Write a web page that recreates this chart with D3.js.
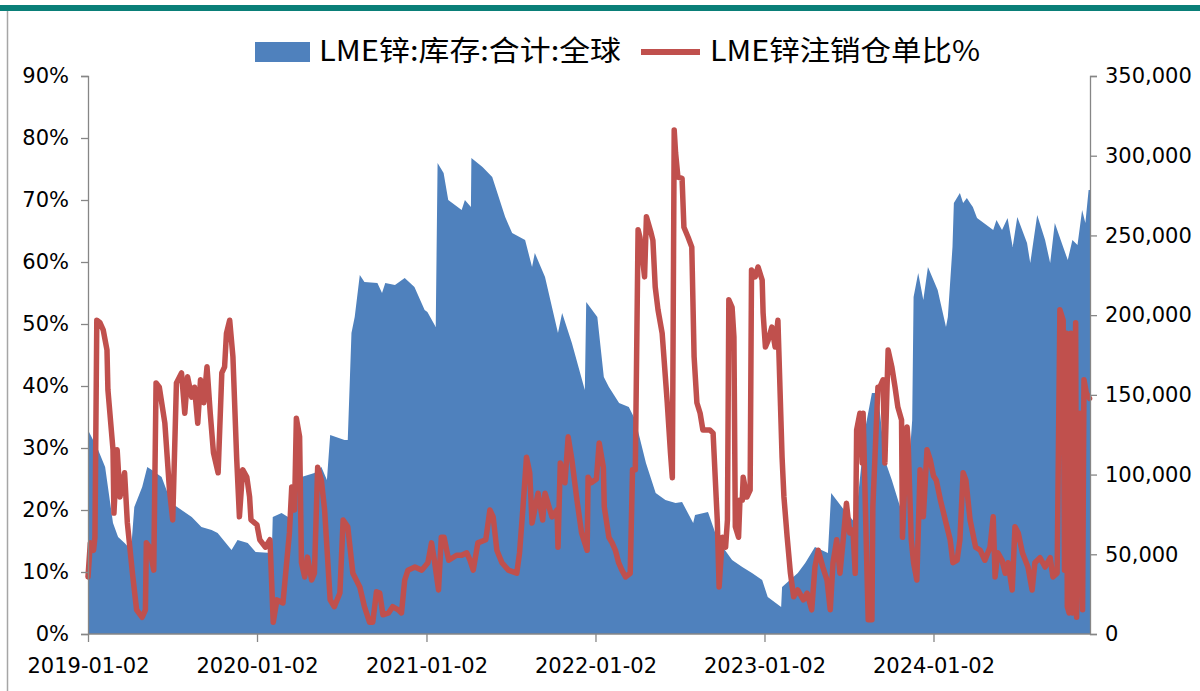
<!DOCTYPE html>
<meta charset="utf-8">
<style>
body { margin: 0; background: #fff; }
.axis path, .axis line { stroke: #868686; stroke-width: 1.3px; }
.axis text { font-family: "DejaVu Sans", sans-serif; font-size: 21px; fill: #000; }
.legend text { font-family: "Noto Sans CJK SC", sans-serif; font-size: 28px; fill: #000; }
</style>
<svg width="1200" height="691"></svg>
<script src="https://cdn.jsdelivr.net/npm/d3@7"></script>
<script>

// LME 锌库存 (吨), 右轴
var stockData = [
  ["2019-01-02",128000],["2019-01-24",115400],["2019-02-08",104700],["2019-02-25",69600],
  ["2019-03-08",60800],["2019-03-22",57100],["2019-04-05",52700],["2019-04-12",79700],
  ["2019-04-29",92200],["2019-05-10",104700],["2019-05-20",102900],["2019-06-10",98500],
  ["2019-07-01",82200],["2019-07-23",77800],["2019-08-14",73400],["2019-09-04",67100],
  ["2019-09-26",65200],["2019-10-09",63300],["2019-11-08",52700],["2019-11-21",59000],
  ["2019-12-13",57100],["2019-12-30",51400],["2020-02-03",50800],["2020-02-05",73400],
  ["2020-02-24",75900],["2020-03-09",73400],["2020-04-07",98500],["2020-05-05",101000],
  ["2020-05-20",104700],["2020-06-01",96600],["2020-06-08",124800],["2020-07-09",121700],
  ["2020-07-16",121700],["2020-07-24",188800],["2020-07-31",198800],["2020-08-11",225200],
  ["2020-08-21",220800],["2020-09-18",220100],["2020-09-28",213900],["2020-10-05",220100],
  ["2020-10-26",218900],["2020-11-16",223300],["2020-12-07",217600],["2020-12-29",203200],
  ["2021-01-04",202000],["2021-01-22",192600],["2021-01-26",295400],["2021-02-08",289100],
  ["2021-02-18",272200],["2021-03-19",265900],["2021-03-26",272200],["2021-04-08",267800],
  ["2021-04-09",298500],["2021-05-03",292900],["2021-05-24",286600],["2021-06-21",261500],
  ["2021-07-06",251500],["2021-08-03",247100],["2021-08-18",230200],["2021-08-24",239000],
  ["2021-09-15",223900],["2021-10-13",188800],["2021-10-22",201300],["2021-11-12",182500],
  ["2021-12-10",153000],["2021-12-13",208200],["2022-01-06",198800],["2022-01-20",161200],
  ["2022-01-31",154900],["2022-02-22",144900],["2022-03-15",142400],["2022-03-29",134200],
  ["2022-04-21",107300],["2022-05-12",88400],["2022-06-02",84000],["2022-06-24",82200],
  ["2022-07-08",82800],["2022-08-01",69600],["2022-08-05",74600],["2022-09-02",76500],
  ["2022-09-23",59000],["2022-10-24",46400],["2022-11-15",42000],["2022-12-06",38300],
  ["2022-12-28",33900],["2023-01-09",23200],["2023-02-07",16900],["2023-02-09",29500],
  ["2023-03-15",38300],["2023-03-31",44500],["2023-04-21",54600],["2023-05-19",50800],
  ["2023-05-26",88400],["2023-06-23",77800],["2023-07-17",69600],["2023-08-01",111000],
  ["2023-08-07",128000],["2023-08-22",151200],["2023-09-04",151200],["2023-09-19",109100],
  ["2023-10-04",96600],["2023-10-26",75900],["2023-11-08",96600],["2023-11-17",134200],
  ["2023-11-20",211400],["2023-11-30",226400],["2023-12-11",209500],["2023-12-21",230200],
  ["2024-01-11",215800],["2024-01-29",192600],["2024-02-02",198800],["2024-02-12",242700],
  ["2024-02-15",270300],["2024-02-28",276600],["2024-03-06",270300],["2024-03-14",273500],
  ["2024-03-21",270300],["2024-03-27",267800],["2024-04-05",260900],["2024-05-10",253400],
  ["2024-05-17",259700],["2024-05-29",253400],["2024-06-10",260900],["2024-06-21",242700],
  ["2024-07-01",261500],["2024-07-22",245200],["2024-07-29",232700],["2024-08-13",262800],
  ["2024-08-30",247100],["2024-09-10",232700],["2024-09-20",257800],["2024-10-08",242700],
  ["2024-10-18",234600],["2024-10-28",247100],["2024-11-08",244000],["2024-11-18",265900],
  ["2024-11-25",257800],["2024-12-02",278500],["2024-12-05",278500]
];

// LME 锌注销仓单比 (%), 左轴
var cancelData = [
  ["2019-01-02",9.2],["2019-01-07",14.7],["2019-01-14",13.5],["2019-01-17",15.6],["2019-01-21",50.6],
  ["2019-01-28",50.2],["2019-02-04",49.0],["2019-02-12",45.8],["2019-02-14",39.4],["2019-02-25",29.7],
  ["2019-02-27",19.5],["2019-03-06",29.7],["2019-03-12",22.1],["2019-03-22",26.0],["2019-03-28",17.9],
  ["2019-04-08",9.8],["2019-04-17",3.9],["2019-04-29",2.7],["2019-05-06",3.9],["2019-05-08",14.7],
  ["2019-05-15",14.0],["2019-05-24",10.3],["2019-05-29",40.5],["2019-06-05",39.8],["2019-06-17",34.0],
  ["2019-06-27",23.2],["2019-07-04",18.4],["2019-07-12",40.5],["2019-07-23",42.1],["2019-07-30",35.6],
  ["2019-08-05",41.5],["2019-08-14",38.2],["2019-08-20",39.8],["2019-08-27",34.0],["2019-09-02",41.0],
  ["2019-09-09",37.3],["2019-09-16",43.1],["2019-09-23",35.6],["2019-09-30",29.2],["2019-10-10",26.0],
  ["2019-10-18",42.1],["2019-10-24",43.1],["2019-10-28",48.5],["2019-11-04",50.6],["2019-11-11",44.7],
  ["2019-11-19",28.5],["2019-11-25",18.9],["2019-12-02",26.5],["2019-12-11",25.3],["2019-12-17",22.1],
  ["2019-12-20",18.4],["2020-01-02",17.6],["2020-01-08",15.2],["2020-01-20",14.0],["2020-01-30",15.2],
  ["2020-02-06",1.9],["2020-02-14",5.5],["2020-02-27",5.0],["2020-03-06",11.5],["2020-03-12",16.3],
  ["2020-03-17",23.7],["2020-03-23",20.0],["2020-03-27",34.8],["2020-04-03",31.8],["2020-04-07",11.5],
  ["2020-04-14",9.2],["2020-04-20",12.4],["2020-04-29",8.7],["2020-05-05",9.8],["2020-05-12",26.9],
  ["2020-05-20",24.8],["2020-05-27",20.0],["2020-06-08",5.5],["2020-06-17",4.4],["2020-06-29",6.6],
  ["2020-07-06",18.4],["2020-07-16",17.3],["2020-07-27",9.8],["2020-08-11",7.6],["2020-08-21",4.4],
  ["2020-09-01",1.9],["2020-09-08",1.9],["2020-09-16",6.8],["2020-09-23",6.6],["2020-09-30",3.1],
  ["2020-10-12",3.4],["2020-10-21",4.4],["2020-11-02",3.9],["2020-11-09",3.4],["2020-11-16",8.7],
  ["2020-11-23",10.3],["2020-12-08",10.8],["2020-12-23",10.3],["2021-01-05",11.5],["2021-01-13",14.7],
  ["2021-01-19",11.9],["2021-01-28",7.1],["2021-02-03",15.6],["2021-02-09",15.6],["2021-02-19",11.9],
  ["2021-03-08",12.7],["2021-03-19",12.7],["2021-03-30",13.1],["2021-04-06",11.9],["2021-04-13",10.3],
  ["2021-04-23",14.7],["2021-05-10",15.2],["2021-05-19",20.0],["2021-05-26",18.9],["2021-06-03",13.5],
  ["2021-06-14",11.5],["2021-06-28",10.3],["2021-07-16",9.8],["2021-07-22",13.1],["2021-07-29",20.0],
  ["2021-08-06",28.5],["2021-08-13",26.0],["2021-08-18",17.9],["2021-08-31",22.7],["2021-09-10",18.4],
  ["2021-09-15",22.7],["2021-09-30",18.9],["2021-10-11",20.0],["2021-10-13",14.0],["2021-10-18",27.6],
  ["2021-10-28",24.4],["2021-11-04",31.8],["2021-11-12",28.1],["2021-11-23",21.6],["2021-12-03",16.3],
  ["2021-12-15",13.5],["2021-12-17",25.3],["2021-12-24",24.4],["2022-01-04",25.0],["2022-01-10",30.8],
  ["2022-01-19",26.9],["2022-01-21",20.5],["2022-01-31",15.6],["2022-02-07",14.7],["2022-02-14",13.5],
  ["2022-02-21",11.5],["2022-02-28",10.3],["2022-03-08",9.2],["2022-03-18",9.8],["2022-03-23",26.5],
  ["2022-03-29",26.5],["2022-04-04",65.2],["2022-04-08",64.0],["2022-04-14",60.3],["2022-04-18",57.6],
  ["2022-04-22",67.3],["2022-05-02",64.7],["2022-05-06",63.5],["2022-05-11",56.0],["2022-05-17",52.3],
  ["2022-05-26",48.5],["2022-06-06",37.3],["2022-06-13",29.2],["2022-06-17",25.2],["2022-06-20",66.8],
  ["2022-06-21",81.3],["2022-06-24",77.6],["2022-06-29",73.7],["2022-07-08",73.5],["2022-07-12",65.6],
  ["2022-07-21",64.0],["2022-07-29",62.4],["2022-08-03",44.7],["2022-08-09",37.3],["2022-08-16",35.6],
  ["2022-08-22",32.9],["2022-09-06",32.9],["2022-09-13",32.4],["2022-09-22",18.4],["2022-09-26",7.6],
  ["2022-10-03",15.6],["2022-10-10",14.0],["2022-10-14",18.4],["2022-10-17",53.9],["2022-10-24",52.7],
  ["2022-10-28",47.9],["2022-10-31",17.3],["2022-11-07",15.6],["2022-11-10",21.6],["2022-11-15",21.6],
  ["2022-11-17",25.3],["2022-11-25",22.1],["2022-12-02",23.2],["2022-12-05",58.7],["2022-12-13",57.6],
  ["2022-12-19",59.2],["2022-12-28",57.1],["2022-12-30",51.8],["2023-01-04",46.3],["2023-01-10",47.4],
  ["2023-01-18",49.5],["2023-01-25",46.3],["2023-01-31",50.6],["2023-02-09",28.5],["2023-02-13",22.1],
  ["2023-02-20",15.6],["2023-02-27",9.8],["2023-03-06",6.0],["2023-03-15",7.1],["2023-03-27",5.5],
  ["2023-04-04",6.6],["2023-04-14",3.9],["2023-04-21",10.8],["2023-04-28",13.5],["2023-05-08",10.8],
  ["2023-05-17",8.7],["2023-05-24",3.9],["2023-05-30",11.5],["2023-06-07",15.2],["2023-06-14",9.8],
  ["2023-06-21",15.2],["2023-06-28",21.1],["2023-07-05",16.3],["2023-07-12",16.8],["2023-07-17",9.8],
  ["2023-07-20",32.9],["2023-07-27",35.6],["2023-08-01",27.6],["2023-08-03",35.6],["2023-08-10",14.0],
  ["2023-08-14",2.3],["2023-08-22",2.3],["2023-08-24",20.5],["2023-09-04",39.8],["2023-09-08",39.8],
  ["2023-09-15",41.0],["2023-09-19",27.6],["2023-09-26",45.8],["2023-10-04",43.1],["2023-10-11",39.8],
  ["2023-10-17",36.6],["2023-10-25",34.5],["2023-10-27",15.6],["2023-11-06",33.4],["2023-11-08",31.3],
  ["2023-11-15",15.2],["2023-11-20",11.5],["2023-11-27",8.7],["2023-12-04",26.5],["2023-12-11",18.9],
  ["2023-12-19",29.7],["2023-12-26",28.1],["2024-01-02",25.5],["2024-01-08",24.8],["2024-01-17",21.6],
  ["2024-01-29",17.9],["2024-02-07",15.2],["2024-02-13",11.5],["2024-02-22",11.9],["2024-02-28",15.2],
  ["2024-03-06",26.0],["2024-03-12",24.8],["2024-03-21",18.4],["2024-04-02",14.0],["2024-04-12",13.5],
  ["2024-04-22",11.9],["2024-05-03",14.0],["2024-05-10",18.9],["2024-05-14",9.2],["2024-05-20",13.1],
  ["2024-05-29",11.9],["2024-06-05",9.8],["2024-06-11",11.5],["2024-06-20",7.1],["2024-06-26",17.3],
  ["2024-07-03",16.3],["2024-07-12",13.1],["2024-07-24",10.8],["2024-08-02",7.1],["2024-08-08",11.5],
  ["2024-08-19",12.3],["2024-08-30",10.8],["2024-09-10",12.3],["2024-09-16",9.2],["2024-09-25",9.8],
  ["2024-10-01",52.3],["2024-10-08",50.6],["2024-10-11",10.3],["2024-10-15",48.5],["2024-10-17",4.4],
  ["2024-10-21",3.4],["2024-10-25",48.5],["2024-10-28",3.4],["2024-11-04",50.2],["2024-11-06",2.7],
  ["2024-11-13",35.6],["2024-11-19",3.9],["2024-11-22",41.0],["2024-11-27",38.9],["2024-12-04",38.0]
];

var xTickDates = ["2019-01-02","2020-01-02","2021-01-02","2022-01-02","2023-01-02","2024-01-02"];
var leftTicks = [0,10,20,30,40,50,60,70,80,90];
var rightTicks = [0,50000,100000,150000,200000,250000,300000,350000];
var legendNames = ["LME锌:库存:合计:全球", "LME锌注销仓单比%"];

var svg = d3.select("svg"),
    width = +svg.attr("width"),
    height = +svg.attr("height");

var parse = d3.timeParse("%Y-%m-%d");
var stock = stockData.map(function(d) { return {date: parse(d[0]), v: d[1]}; });
var cancel = cancelData.map(function(d) { return {date: parse(d[0]), v: d[1]}; });

var plotLeft = 88, plotRight = 1090, plotTop = 76, plotBottom = 634;

var x = d3.scaleTime()
    .domain([parse("2019-01-02"), parse("2024-12-05")])
    .range([plotLeft, plotRight]);
var yL = d3.scaleLinear().domain([0, 90]).range([plotBottom, plotTop]);
var yR = d3.scaleLinear().domain([0, 350000]).range([plotBottom, plotTop]);

// frame: teal bar on top, grey rule on the left
svg.append("rect").attr("x", 0).attr("y", 5).attr("width", width).attr("height", 6).attr("fill", "#0a7f78");
svg.append("line").attr("x1", 7.5).attr("x2", 7.5).attr("y1", 11).attr("y2", height)
    .attr("stroke", "#a6a6a6").attr("stroke-width", 1.5);

svg.append("path")
    .datum(stock)
    .attr("fill", "#4f81bd")
    .attr("d", d3.area()
        .x(function(d) { return x(d.date); })
        .y0(plotBottom)
        .y1(function(d) { return yR(d.v); }));

svg.append("path")
    .datum(cancel)
    .attr("fill", "none")
    .attr("stroke", "#c0504d")
    .attr("stroke-width", 5.5)
    .attr("stroke-linejoin", "round")
    .attr("stroke-linecap", "round")
    .attr("d", d3.line()
        .x(function(d) { return x(d.date); })
        .y(function(d) { return yL(d.v); }));

svg.append("g")
    .attr("class", "axis")
    .attr("transform", "translate(" + plotLeft + ",0)")
    .call(d3.axisLeft(yL).tickValues(leftTicks).tickSize(7).tickPadding(12)
        .tickFormat(function(d) { return d + "%"; }));

svg.append("g")
    .attr("class", "axis")
    .attr("transform", "translate(" + plotRight + ",0)")
    .call(d3.axisRight(yR).tickValues(rightTicks).tickSize(7).tickPadding(8)
        .tickFormat(d3.format(",")));

svg.append("g")
    .attr("class", "axis")
    .attr("transform", "translate(0," + plotBottom + ")")
    .call(d3.axisBottom(x).tickValues(xTickDates.map(parse)).tickSize(8).tickPadding(16)
        .tickFormat(d3.timeFormat("%Y-%m-%d")))
    .call(function(g) { g.select(".domain").attr("d", "M" + plotLeft + ",0H" + plotRight); });

// legend
var lg = svg.append("g").attr("class", "legend");
lg.append("rect").attr("x", 255).attr("y", 42).attr("width", 55).attr("height", 20).attr("fill", "#4f81bd");
lg.append("text").attr("x", 319).attr("y", 61).text(legendNames[0])
    .attr("textLength", 302).attr("lengthAdjust", "spacingAndGlyphs");
lg.append("line").attr("x1", 641).attr("x2", 700).attr("y1", 52).attr("y2", 52)
    .attr("stroke", "#c0504d").attr("stroke-width", 6);
lg.append("text").attr("x", 710).attr("y", 61).text(legendNames[1])
    .attr("textLength", 270).attr("lengthAdjust", "spacingAndGlyphs");

</script>
